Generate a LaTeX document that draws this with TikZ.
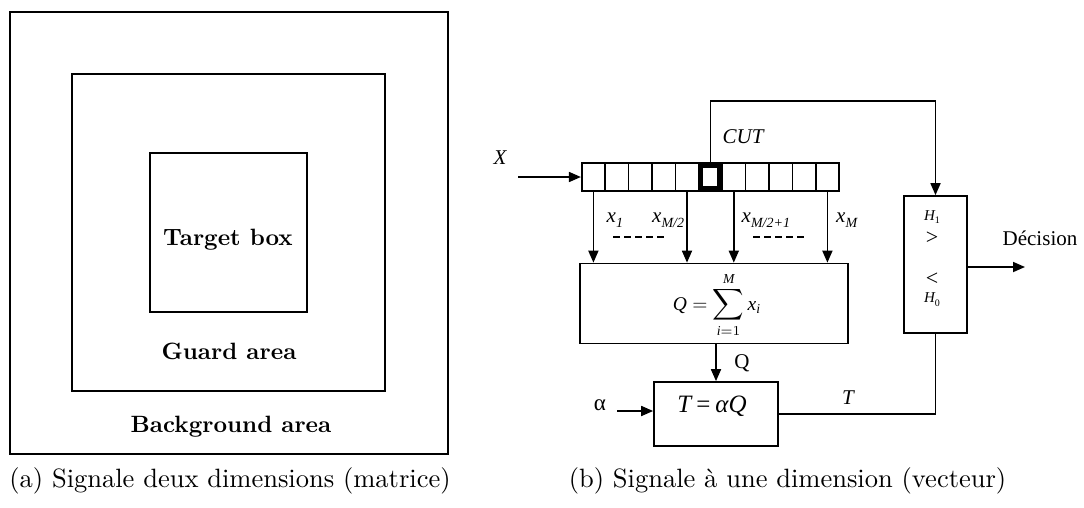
\documentclass[tikz,border=0pt]{standalone}
\usepackage{fontspec}
\usepackage{amsmath}
\usetikzlibrary{arrows.meta}
\newfontfamily\tms{Liberation Serif}
\newcommand\xs[2]{{\itshape #1}\raisebox{-0.28em}{\fontsize{14}{14}\selectfont\itshape #2}}
\newcommand\hs[2]{{\itshape #1}\raisebox{-0.25em}{\fontsize{10}{10}\selectfont #2}}
\begin{document}
\begin{tikzpicture}[x=1pt,y=-1pt,
  lbox/.style={draw, line width=2.6pt, inner sep=0},
  rbox/.style={draw, line width=1.7pt, inner sep=0},
  cell/.style={draw, line width=1.6pt, minimum width=23.4pt, minimum height=28pt, inner sep=0},
  arr/.style={line width=1.7pt, -{Triangle[length=12pt,width=10pt]}},
  ln/.style={line width=1.7pt},
  lbl/.style={inner sep=0, font=\tms\fontsize{21}{21}\selectfont},
  ilbl/.style={inner sep=0, font=\tms\itshape\fontsize{21}{21}\selectfont},
  txt/.style={inner sep=0}]
\useasboundingbox (0,0) rectangle (1084,507);
% ---------- left panel ----------
\node[lbox, minimum width=438pt, minimum height=442pt] (bg) at (229,233) {};
\node[lbox, minimum width=313pt, minimum height=317pt] (guard) at (228.5,232.5) {};
\node[lbox, minimum width=157pt, minimum height=159pt] (target) at (228.5,232.5) {};
\node[txt] (ttarget) at (228,240) {\scalebox{2.36}{\bfseries Target box}};
\node[txt] (tguard) at (229,351) {\scalebox{2.36}{\bfseries Guard area}};
\node[txt] (tbg) at (231,427) {\scalebox{2.36}{\bfseries Background area}};
\node[txt] (capa) at (230,481) {\scalebox{2.65}{(a) Signale deux dimensions (matrice)}};
\node[txt] (capb) at (787.5,481) {\scalebox{2.65}{(b) Signale à une dimension (vecteur)}};
% ---------- right panel ----------
\node[ilbl] (X) at (500,158) {X};
\foreach \i in {1,...,11} \node[cell] (c\i) at ({581.7+23.4*(\i-0.5)},177) {};
\draw[line width=5.5pt] ([shift={(2.75,2.75)}]c6.north west) rectangle ([shift={(-2.75,-2.75)}]c6.south east);
\coordinate (xin) at (518,177);
\draw[arr] (xin) -- (c1.west);
\node[ilbl] (cut) at (743,137) {CUT};
\node[rbox, minimum width=63pt, minimum height=137pt] (hb) at (935.5,264.5) {};
\draw[arr] (c6.north) -- ++(0,-61) -| (hb.north);
\node[rbox, minimum width=268pt, minimum height=80pt] (sum) at (714,303.5) {};
\node[txt] (sumf) at (717,305)
  {\tms\scalebox{1.95}{$\text{\tms\itshape Q} = \mathop{\scalebox{1.12}{$\displaystyle\sum$}}\limits_{\text{\tms\itshape i}=1}^{\text{\tms\itshape M}}\text{\tms\itshape x}_{\text{\tms\itshape i}}$}};
\foreach \i in {1,5,7,11} \draw[arr] (c\i.south) -- (c\i.south |- sum.north);
\node[lbl, anchor=base west] (x1) at (606.5,222) {\xs{x}{1}};
\node[lbl, anchor=base west] (xm2) at (652,222) {\xs{x}{M/2}};
\node[lbl, anchor=base west] (xm21) at (741.5,222) {\xs{x}{M/2+1}};
\node[lbl, anchor=base west] (xm) at (836,222) {\xs{x}{M}};
\draw[ln, dash pattern=on 7pt off 4pt] (613,237) -- (667,237);
\draw[ln, dash pattern=on 7pt off 4pt] (753,237) -- (807,237);
\node[rbox, minimum width=124pt, minimum height=64pt] (tb) at (716,414) {};
\node[txt, font=\tms\fontsize{25}{25}\selectfont] (tf) at (712,406) {{\itshape T}\hspace{0.2em}=\hspace{0.2em}{\itshape αQ}};
\draw[arr] (tb.north |- sum.south) -- (tb.north);
\node[lbl] (ql) at (742,363) {Q};
\node[lbl, font=\tms\fontsize{23}{23}\selectfont] (al) at (600,405) {α};
\coordinate (ain) at (617,411);
\draw[arr] (ain) -- (tb.west |- ain);
\draw[ln] (tb.east) -| (hb.south);
\node[ilbl] (tl) at (848,398) {T};
\node[txt, font=\tms\fontsize{15}{15}\selectfont] (h1) at (932,217) {\hs{H}{1}};
\node[txt, font=\tms\fontsize{22}{22}\selectfont] (gt) at (932,238) {>};
\node[txt, font=\tms\fontsize{22}{22}\selectfont] (lt) at (932,279) {<};
\node[txt, font=\tms\fontsize{15}{15}\selectfont] (h0) at (932,300) {\hs{H}{0}};
\coordinate (dout) at (1025,267);
\draw[arr] (hb.east |- dout) -- (dout);
\node[lbl] (dec) at (1040,238) {Décision};
\end{tikzpicture}
\end{document}
